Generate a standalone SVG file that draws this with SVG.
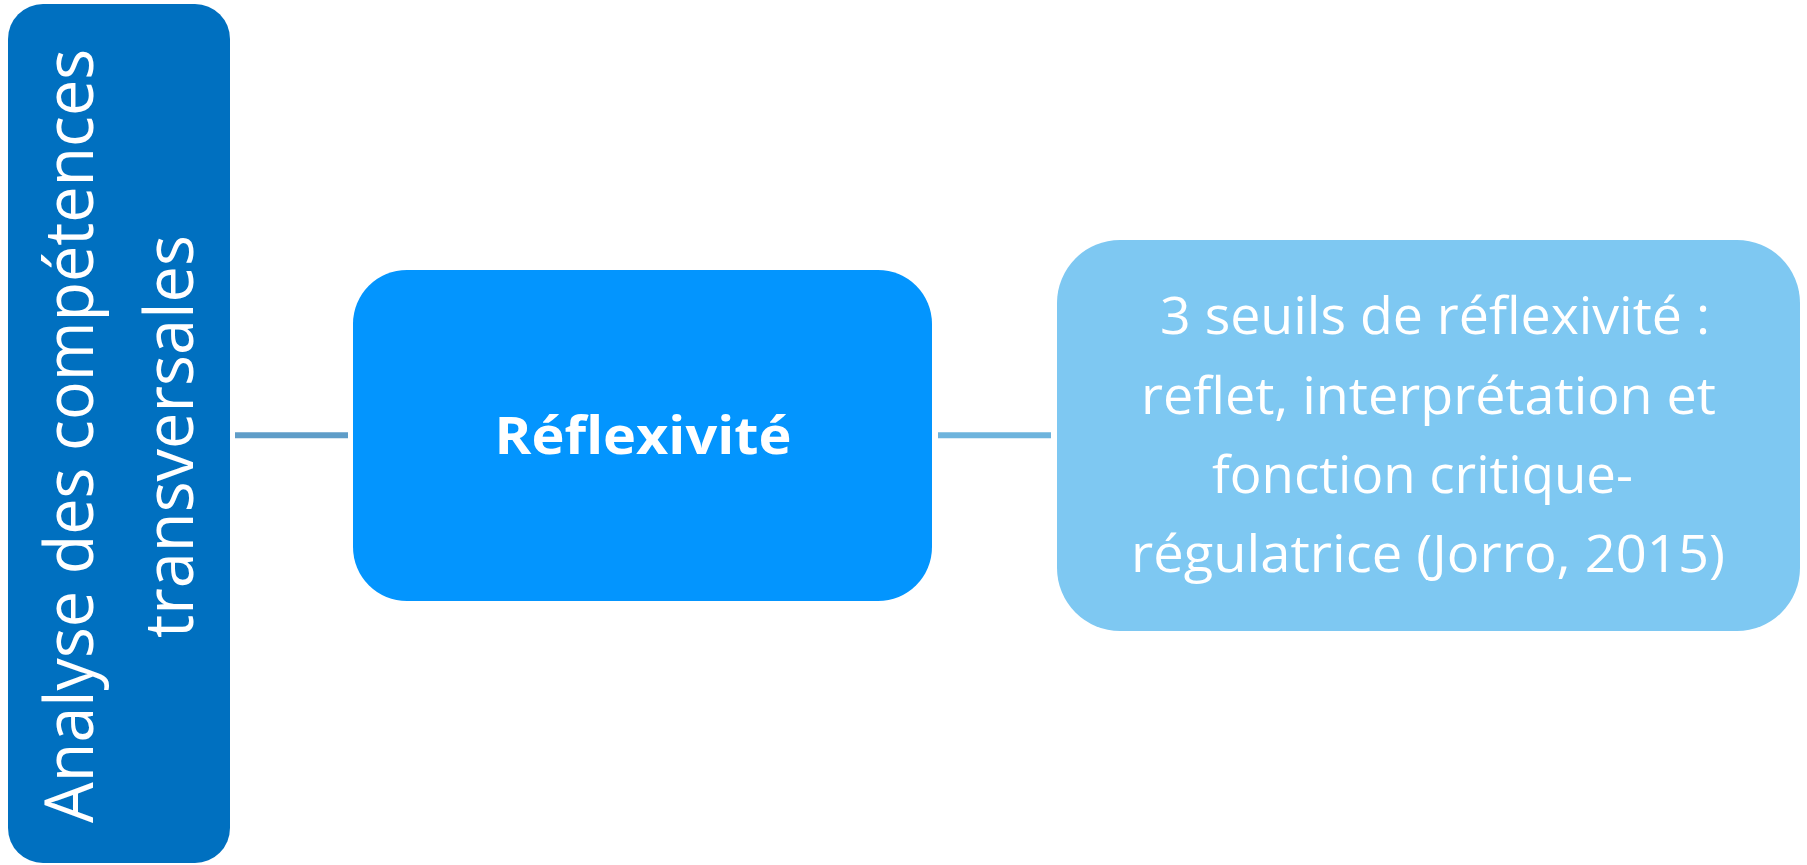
<svg xmlns="http://www.w3.org/2000/svg" width="1807" height="865" viewBox="0 0 1807 865">
<style>
.lbl{fill:#ffffff;font-family:"Open Sans","Noto Sans","Liberation Sans",sans-serif;}
.vert{font-size:67px;text-anchor:middle;}
.bold{font-size:52px;font-weight:700;text-anchor:middle;}
.light{font-size:51px;font-weight:400;}
.conn{stroke-width:6;fill:none;}
</style>
<rect width="1807" height="865" fill="#ffffff"/>
<g id="connectors">
<line class="conn" x1="235" y1="435.3" x2="348" y2="435.3" stroke="#5F9DC8"/>
<line class="conn" x1="938" y1="435.3" x2="1051" y2="435.3" stroke="#6EB4DD"/>
</g>
<g id="node-analyse">
<rect x="8" y="4" width="222" height="859" rx="35" ry="35" fill="#0070C0"/>
<text class="lbl vert" transform="translate(93,436) rotate(-90)" textLength="774" lengthAdjust="spacingAndGlyphs">Analyse des compétences</text>
<text class="lbl vert" transform="translate(193,436.5) rotate(-90)" textLength="403" lengthAdjust="spacingAndGlyphs">transversales</text>
</g>
<g id="node-reflexivite">
<rect x="353" y="270" width="579" height="331" rx="54" ry="54" fill="#0395FE"/>
<text class="lbl bold" x="643" y="454" textLength="297" lengthAdjust="spacingAndGlyphs">Réflexivité</text>
</g>
<g id="node-seuils">
<rect x="1057" y="240" width="743" height="391" rx="63" ry="63" fill="#7EC8F2"/>
<text class="lbl light" x="1160" y="334" textLength="550" lengthAdjust="spacingAndGlyphs">3 seuils de réflexivité :</text>
<text class="lbl light" x="1141" y="414" textLength="575" lengthAdjust="spacingAndGlyphs">reflet, interprétation et</text>
<text class="lbl light" x="1212" y="493" textLength="421" lengthAdjust="spacingAndGlyphs">fonction critique-</text>
<text class="lbl light" x="1131" y="572" textLength="594" lengthAdjust="spacingAndGlyphs">régulatrice (Jorro, 2015)</text>
</g>
</svg>
